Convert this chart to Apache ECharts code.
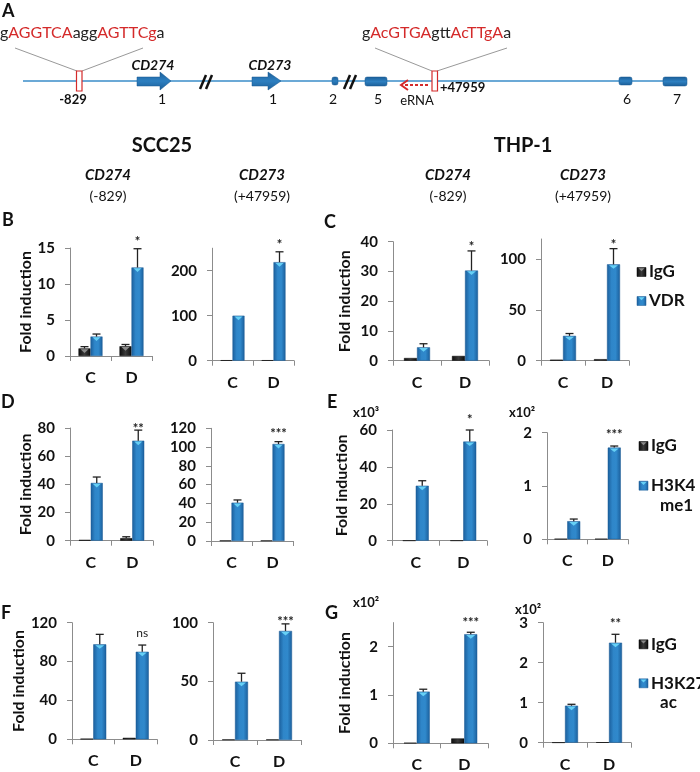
<!DOCTYPE html>
<html><head><meta charset="utf-8">
<script src="https://cdn.jsdelivr.net/npm/echarts@6/dist/echarts.min.js"></script>
<style>html,body{margin:0;padding:0;background:#fff}#c{width:700px;height:772px}</style>
</head><body><div id="c"></div>
<script>
// ---------------- DATA ----------------
const categories = ['C', 'D'];
const seriesIgG = 'IgG';
const targetB = 'VDR', targetD = 'H3K4me1', targetF = 'H3K27ac';

// B: SCC25, VDR ChIP
const b1IgG = [1.05, 1.35], b1IgGErr = [1.3, 1.6], b1Tgt = [2.7, 12.3], b1TgtErr = [3.05, 14.9], b1Sig = ['', '*'];
const b1Ticks = [0, 5, 10, 15];
const b2IgG = [1, 1], b2IgGErr = [1, 1], b2Tgt = [100, 219], b2TgtErr = [101, 242], b2Sig = ['', '*'];
const b2Ticks = [0, 100, 200];
// C: THP-1, VDR ChIP
const c1IgG = [0.9, 1.6], c1IgGErr = [1.1, 1.9], c1Tgt = [4.5, 30.3], c1TgtErr = [5.7, 36.9], c1Sig = ['', '*'];
const c1Ticks = [0, 10, 20, 30, 40];
const c2IgG = [1, 1.5], c2IgGErr = [1.5, 2.2], c2Tgt = [24.5, 95], c2TgtErr = [26.8, 110.5], c2Sig = ['', '*'];
const c2Ticks = [0, 50, 100];
// D: SCC25, H3K4me1
const d1IgG = [0.6, 1.8], d1IgGErr = [0.8, 2.8], d1Tgt = [41, 71], d1TgtErr = [45.2, 78.5], d1Sig = ['', '**'];
const d1Ticks = [0, 20, 40, 60, 80];
const d2IgG = [0.6, 0.6], d2IgGErr = [0.6, 0.6], d2Tgt = [40.8, 103.3], d2TgtErr = [43.7, 105.8], d2Sig = ['', '***'];
const d2Ticks = [0, 20, 40, 60, 80, 100, 120];
// E: THP-1, H3K4me1 (x10^3, x10^2)
const e1IgG = [0.05, 0.05], e1IgGErr = [0.05, 0.05], e1Tgt = [29.8, 53.7], e1TgtErr = [32.5, 60], e1Sig = ['', '*'];
const e1Ticks = [0, 20, 40, 60];
const e2IgG = [0.01, 0.01], e2IgGErr = [0.01, 0.01], e2Tgt = [0.34, 1.72], e2TgtErr = [0.38, 1.75], e2Sig = ['', '***'];
const e2Ticks = [0, 1, 2];
// F: SCC25, H3K27ac
const f1IgG = [0.6, 1.5], f1IgGErr = [0.8, 2], f1Tgt = [97.7, 90.1], f1TgtErr = [108, 97], f1Sig = ['', 'ns'];
const f1Ticks = [0, 40, 80, 120];
const f2IgG = [0.5, 0.5], f2IgGErr = [0.5, 0.5], f2Tgt = [49.7, 93], f2TgtErr = [56.9, 99], f2Sig = ['', '***'];
const f2Ticks = [0, 50, 100];
// G: THP-1, H3K27ac (x10^2)
const g1IgG = [0.01, 0.1], g1IgGErr = [0.015, 0.12], g1Tgt = [1.07, 2.26], g1TgtErr = [1.12, 2.30], g1Sig = ['', '***'];
const g1Ticks = [0, 1, 2];
const g2IgG = [0.005, 0.01], g2IgGErr = [0.005, 0.01], g2Tgt = [0.925, 2.5], g2TgtErr = [0.96, 2.71], g2Sig = ['', '**'];
const g2Ticks = [0, 1, 2, 3];

// ---------------- LAYOUT ----------------
const FF = 'Lato, "Open Sans", "Liberation Sans", sans-serif';
const AX = '#8c8c8c';
const panels = [
  {igg:b1IgG, iggErr:b1IgGErr, tgt:b1Tgt, tgtErr:b1TgtErr, sig:b1Sig, ticks:b1Ticks, max:15, target:targetB, left:70, top:248, width:82, height:108, yname:true, nameGap:36, sigGap:10, bw:12},
  {igg:b2IgG, iggErr:b2IgGErr, tgt:b2Tgt, tgtErr:b2TgtErr, sig:b2Sig, ticks:b2Ticks, max:250, target:targetB, left:212, top:248.2, width:82, height:112.5, sigGap:10, bw:12},
  {igg:c1IgG, iggErr:c1IgGErr, tgt:c1Tgt, tgtErr:c1TgtErr, sig:c1Sig, ticks:c1Ticks, max:40, target:targetB, left:393, top:241.7, width:96, height:119, yname:true, nameGap:40, sigGap:7, bw:13},
  {igg:c2IgG, iggErr:c2IgGErr, tgt:c2Tgt, tgtErr:c2TgtErr, sig:c2Sig, ticks:c2Ticks, max:120, target:targetB, left:541, top:239, width:88, height:121.7, sigGap:7, bw:13},
  {igg:d1IgG, iggErr:d1IgGErr, tgt:d1Tgt, tgtErr:d1TgtErr, sig:d1Sig, ticks:d1Ticks, max:80, target:targetD, left:70, top:428, width:83, height:112.7, yname:true, nameGap:36, sigGap:4, bw:12},
  {igg:d2IgG, iggErr:d2IgGErr, tgt:d2Tgt, tgtErr:d2TgtErr, sig:d2Sig, ticks:d2Ticks, max:120, target:targetD, left:211, top:428.3, width:82, height:112.7, sigGap:11, bw:12},
  {igg:e1IgG, iggErr:e1IgGErr, tgt:e1Tgt, tgtErr:e1TgtErr, sig:e1Sig, ticks:e1Ticks, max:60, target:targetD, left:392, top:430, width:95, height:110.7, yname:true, nameGap:42, sigGap:13, bw:13},
  {igg:e2IgG, iggErr:e2IgGErr, tgt:e2Tgt, tgtErr:e2TgtErr, sig:e2Sig, ticks:e2Ticks, max:2, target:targetD, left:547, top:432.7, width:81, height:106.6, sigGap:14, bw:13},
  {igg:f1IgG, iggErr:f1IgGErr, tgt:f1Tgt, tgtErr:f1TgtErr, sig:f1Sig, ticks:f1Ticks, max:120, target:targetF, left:72, top:622.7, width:85, height:116.6, yname:true, nameGap:38, sigGap:12, bw:13},
  {igg:f2IgG, iggErr:f2IgGErr, tgt:f2Tgt, tgtErr:f2TgtErr, sig:f2Sig, ticks:f2Ticks, max:100, target:targetF, left:213, top:622.7, width:88, height:117.3, sigGap:5, bw:13},
  {igg:g1IgG, iggErr:g1IgGErr, tgt:g1Tgt, tgtErr:g1TgtErr, sig:g1Sig, ticks:g1Ticks, max:2.5, target:targetF, left:393, top:622.6, width:95, height:120.7, yname:true, nameGap:40, sigGap:12, bw:13},
  {igg:g2IgG, iggErr:g2IgGErr, tgt:g2Tgt, tgtErr:g2TgtErr, sig:g2Sig, ticks:g2Ticks, max:3, target:targetF, left:543, top:622.7, width:88, height:120, sigGap:13, bw:13}
];

const blueGrad = {type:'linear', x:0, y:0, x2:1, y2:0, colorStops:[
  {offset:0, color:'#1b5f9c'}, {offset:0.35, color:'#2f86c9'}, {offset:0.65, color:'#3089cc'}, {offset:1, color:'#1b5f9c'}]};
const blackGrad = {type:'linear', x:0, y:0, x2:1, y2:0, colorStops:[
  {offset:0, color:'#0d0d0d'}, {offset:0.5, color:'#3a3a3a'}, {offset:1, color:'#0d0d0d'}]};

const grid = [], xAxis = [], yAxis = [], series = [];
panels.forEach((p, i) => {
  grid.push({left:p.left, top:p.top, width:p.width, height:p.height, containLabel:false, outerBoundsMode:'none'});
  xAxis.push({type:'category', gridIndex:i, data:categories,
    axisLine:{show:true, lineStyle:{color:AX, width:1}},
    axisTick:{show:true, length:5, lineStyle:{color:AX}},
    axisLabel:{fontSize:16, fontWeight:'bold', color:'#111', margin:14, fontFamily:FF},
    splitLine:{show:false}});
  yAxis.push({type:'value', gridIndex:i, min:0, max:p.max,
    axisLine:{show:true, lineStyle:{color:AX, width:1}},
    axisTick:{show:true, length:5, lineStyle:{color:AX}, customValues:p.ticks},
    axisLabel:{fontSize:15, fontWeight:'bold', color:'#111', margin:15, fontFamily:FF, customValues:p.ticks},
    splitLine:{show:false},
    name: p.yname ? 'Fold induction' : '', nameLocation:'middle', nameGap:p.nameGap || 30, nameRotate:90,
    nameTextStyle:{fontSize:16, fontWeight:'bold', color:'#111', fontFamily:FF}});
  series.push({type:'bar', name:seriesIgG, xAxisIndex:i, yAxisIndex:i, data:p.igg, barWidth:p.bw, barGap:'0%',
    itemStyle:{color:blackGrad, borderColor:'#000', borderWidth:0.5}, silent:true, animation:false});
  series.push({type:'bar', name:p.target, xAxisIndex:i, yAxisIndex:i, data:p.tgt, barWidth:p.bw, barGap:'0%',
    itemStyle:{color:blueGrad, borderColor:'#1a5a94', borderWidth:0.5}, silent:true, animation:false});
  const rows = [];
  categories.forEach((c, k) => {
    rows.push([k, p.igg[k], p.iggErr[k], -1, 0]);
    rows.push([k, p.tgt[k], p.tgtErr[k], 1, 1]);
  });
  series.push({type:'custom', xAxisIndex:i, yAxisIndex:i, data:rows, silent:true, z:5, clip:false, animation:false,
    renderItem(params, api) {
      const k = api.value(0), v = api.value(1), e = api.value(2), side = api.value(3), kind = api.value(4);
      const base = api.coord([k, 0]);
      const xc = base[0] + side * p.bw / 2;
      const yv = api.coord([k, v])[1];
      const ye = api.coord([k, e])[1];
      const ch = [];
      if (base[1] - yv > 6) {
        ch.push({type:'polygon', shape:{points:[[xc - p.bw/2 + 2, yv + 0.8], [xc + p.bw/2 - 2, yv + 0.8], [xc, yv + 4.5]]},
          style:{fill: kind ? '#66d0f5' : '#8a8a8a'}});
      }
      if (yv - ye > 1) {
        ch.push({type:'line', shape:{x1:xc, y1:yv, x2:xc, y2:ye}, style:{stroke:'#222', lineWidth:1.3}});
        ch.push({type:'line', shape:{x1:xc - 4, y1:ye, x2:xc + 4, y2:ye}, style:{stroke:'#222', lineWidth:1.3}});
      }
      const s = kind ? p.sig[k] : '';
      if (s) {
        const isNs = s === 'ns';
        ch.push({type:'text', x:xc, y:ye - p.sigGap + (isNs ? 0 : 3), style:{text:s, align:'center', verticalAlign:'middle',
          fill:'#222', fontSize: isNs ? 12 : 13, fontWeight: isNs ? 'normal' : 'bold', fontFamily:FF}});
      }
      return {type:'group', children:ch};
    }});
});

// ---------------- GRAPHIC (schematic, titles, legends) ----------------
const G = [];
function txt(t, x, y, o) {
  o = o || {};
  G.push({type:'text', x:x, y:y, silent:true, style:Object.assign({text:t, align:o.align || 'center', verticalAlign:'middle',
    fill:o.fill || '#111', fontSize:o.size || 14, fontWeight:o.weight || 'normal', fontStyle:o.style || 'normal', fontFamily:FF}, o.extra || {})});
}
const LINEBLUE = '#3a8cc8', RED = '#d42a2a';
// main line
G.push({type:'line', silent:true, shape:{x1:23, y1:81, x2:687, y2:81}, style:{stroke:LINEBLUE, lineWidth:1.3}});
const exonFill = {type:'linear', x:0, y:0, x2:0, y2:1, colorStops:[{offset:0, color:'#1b5e98'}, {offset:0.5, color:'#2d7fc0'}, {offset:1, color:'#1b5e98'}]};
function exon(x1, x2, y1, y2) {
  G.push({type:'rect', silent:true, shape:{x:x1, y:y1, width:x2 - x1, height:y2 - y1, r:2},
    style:{fill:exonFill, stroke:'#1a5a92', lineWidth:0.5}});
}
function arrowExon(x1, xh, x2) {
  G.push({type:'polygon', silent:true, shape:{points:[[x1, 77], [xh, 77], [xh, 72], [x2, 81], [xh, 90], [xh, 86], [x1, 86]]},
    style:{fill:exonFill, stroke:'#1a5a92', lineWidth:0.5}});
}
arrowExon(137, 160, 171);
arrowExon(252, 268, 281);
exon(332, 338, 77, 85);
exon(365, 387, 77, 86);
exon(619, 632, 77, 85);
exon(663, 687, 77, 86);
function brk(x) {
  G.push({type:'line', silent:true, shape:{x1:x, y1:89, x2:x + 6, y2:75}, style:{stroke:'#111', lineWidth:2.5}});
  G.push({type:'line', silent:true, shape:{x1:x + 6, y1:89, x2:x + 12, y2:75}, style:{stroke:'#111', lineWidth:2.5}});
}
brk(200); brk(344);
G.push({type:'line', silent:true, shape:{x1:15, y1:48, x2:77, y2:71}, style:{stroke:'#999', lineWidth:1}});
G.push({type:'line', silent:true, shape:{x1:143, y1:48, x2:82, y2:71}, style:{stroke:'#999', lineWidth:1}});
G.push({type:'rect', silent:true, shape:{x:76.5, y:71, width:5.5, height:20}, style:{fill:'#fff', stroke:RED, lineWidth:1.2}});
G.push({type:'line', silent:true, shape:{x1:375, y1:48, x2:432, y2:71}, style:{stroke:'#999', lineWidth:1}});
G.push({type:'line', silent:true, shape:{x1:507, y1:48, x2:437, y2:71}, style:{stroke:'#999', lineWidth:1}});
G.push({type:'rect', silent:true, shape:{x:432, y:71, width:5.5, height:20}, style:{fill:'#fff', stroke:RED, lineWidth:1.2}});
G.push({type:'line', silent:true, shape:{x1:428, y1:85, x2:402, y2:85}, style:{stroke:RED, lineWidth:2, lineDash:[3, 2]}});
G.push({type:'polyline', silent:true, shape:{points:[[408, 80], [401, 85], [408, 90]]}, style:{stroke:RED, lineWidth:2, fill:null}});
const seqRich = {k:{fill:'#222', fontSize:16, fontFamily:FF}, r:{fill:RED, fontSize:16, fontFamily:FF}};
G.push({type:'text', x:0, y:33, silent:true, style:{text:'{k|g}{r|AGGTCA}{k|agg}{r|AGTTCg}{k|a}', rich:seqRich, align:'left', verticalAlign:'middle', fontSize:16, fontFamily:FF}});
G.push({type:'text', x:436.5, y:33, silent:true, style:{text:'{k|g}{r|AcGTGA}{k|gtt}{r|AcTTgA}{k|a}', rich:seqRich, align:'center', verticalAlign:'middle', fontSize:16, fontFamily:FF}});
txt('CD274', 153, 65, {size:14, weight:'bold', style:'italic'});
txt('CD273', 270, 65, {size:14, weight:'bold', style:'italic'});
txt('-829', 73, 100, {size:13, weight:'bold'});
txt('1', 162, 99, {size:14});
txt('1', 273, 99, {size:14});
txt('2', 333, 99, {size:14});
txt('5', 378, 99, {size:14});
txt('eRNA', 417, 101, {size:13});
txt('+47959', 440, 88, {size:13, weight:'bold', align:'left'});
txt('6', 627, 99, {size:14});
txt('7', 677, 99, {size:14});
txt('A', 2, 11, {size:18, weight:'bold', align:'left'});
txt('B', 2, 220, {size:18, weight:'bold', align:'left'});
txt('C', 324, 222, {size:18, weight:'bold', align:'left'});
txt('D', 1, 402, {size:18, weight:'bold', align:'left'});
txt('E', 327, 402, {size:18, weight:'bold', align:'left'});
txt('F', 1, 613, {size:18, weight:'bold', align:'left'});
txt('G', 325, 613, {size:18, weight:'bold', align:'left'});
txt('SCC25', 162, 146, {size:20, weight:'bold'});
txt('THP-1', 523, 146, {size:20, weight:'bold'});
[[108, 'CD274', '(-829)'], [262, 'CD273', '(+47959)'], [448, 'CD274', '(-829)'], [583, 'CD273', '(+47959)']].forEach(a => {
  txt(a[1], a[0], 175, {size:15, weight:'bold', style:'italic'});
  txt(a[2], a[0], 196, {size:14});
});
txt('x10³', 353, 413, {size:13, weight:'bold', align:'left'});
txt('x10²', 509, 413, {size:13, weight:'bold', align:'left'});
txt('x10²', 353, 603, {size:13, weight:'bold', align:'left'});
txt('x10²', 515, 610, {size:13, weight:'bold', align:'left'});
function legSq(x, y, kind) {
  G.push({type:'rect', silent:true, shape:{x:x, y:y - 4.5, width:9, height:9}, style:{fill: kind ? blueGrad : blackGrad, stroke: kind ? '#1a5a94' : '#000', lineWidth:0.5}});
  G.push({type:'polygon', silent:true, shape:{points:[[x + 1.5, y - 3.8], [x + 7.5, y - 3.8], [x + 4.5, y - 0.8]]}, style:{fill: kind ? '#66d0f5' : '#8a8a8a'}});
}
function legend(x, yI, lines, yT) {
  legSq(x, yI, 0); txt('IgG', x + 12, yI, {size:17, weight:'bold', align:'left'});
  legSq(x, yT, 1);
  txt(lines[0], x + 12, yT, {size:17, weight:'bold', align:'left'});
  if (lines[1]) txt(lines[1], x + 21, yT + 19.5, {size:17, weight:'bold', align:'left'});
}
legend(637, 272, ['VDR'], 301);
legend(639, 446, ['H3K4', 'me1'], 485.7);
legend(639, 644.3, ['H3K27', 'ac'], 683.3);

const chart = echarts.init(document.getElementById('c'), null, {renderer:'canvas', width:700, height:772});
chart.setOption({
  animation:false,
  backgroundColor:'#fff',
  textStyle:{fontFamily:FF},
  grid, xAxis, yAxis, series,
  graphic:{elements:G}
});
</script></body></html>
